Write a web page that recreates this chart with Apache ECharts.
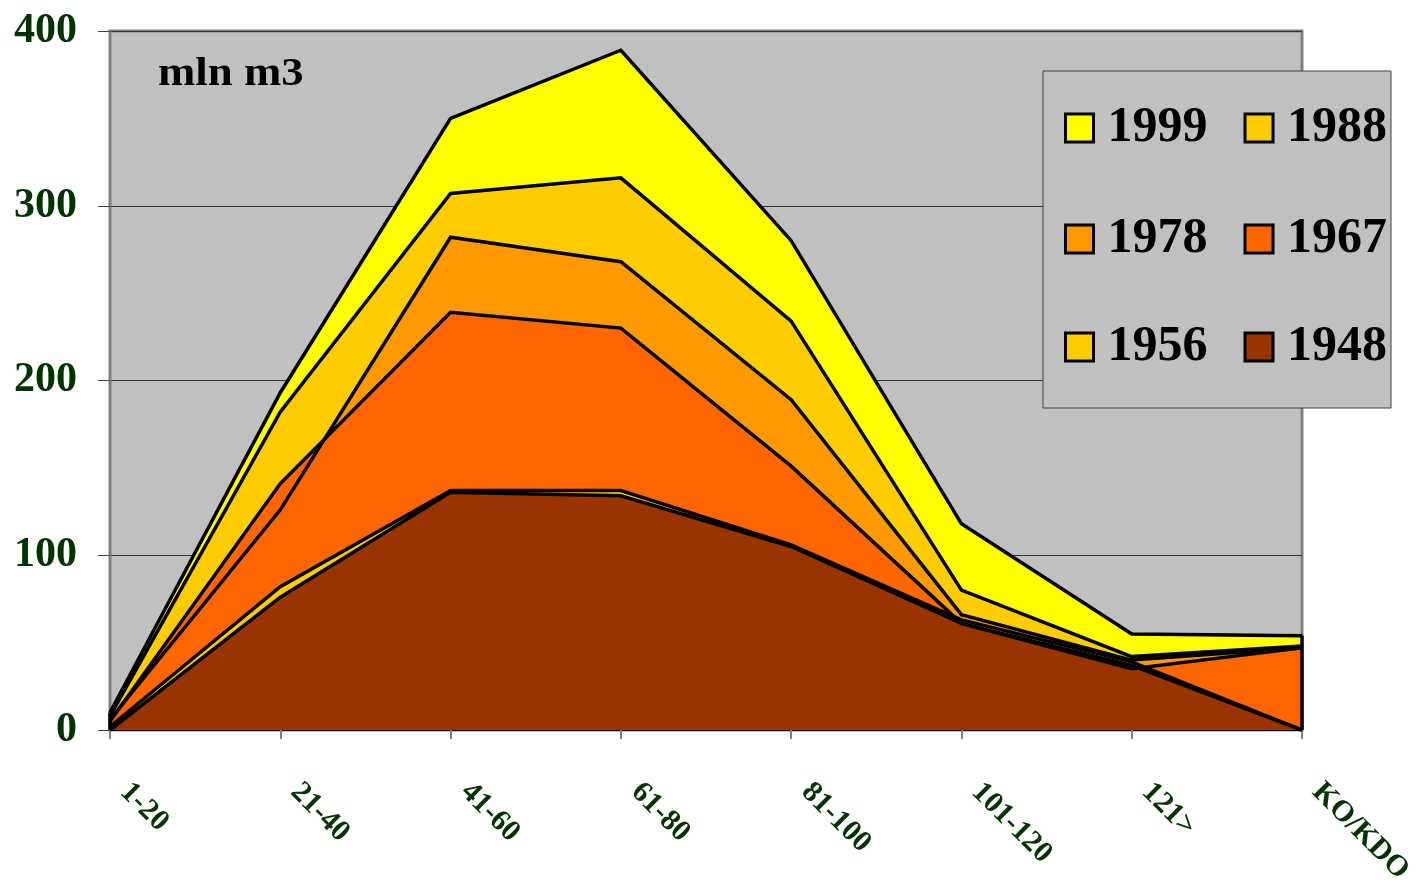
<!DOCTYPE html>
<html>
<head>
<meta charset="utf-8">
<title>mln m3</title>
<script src="https://cdn.jsdelivr.net/npm/echarts@6/dist/echarts.min.js"></script>
<style>
  html, body { margin: 0; padding: 0; background: #ffffff; }
  #chart { width: 1419px; height: 886px; }
</style>
</head>
<body>
<div id="chart"></div>
<script>
// Age classes on the horizontal axis
const categories = ['1-20', '21-40', '41-60', '61-80', '81-100', '101-120', '121>', 'KO/KDO'];

// Volume per age class, mln m3, one array per survey year
const s1999 = [10, 193, 350, 389, 280, 118, 55, 54];
const s1988 = [8, 182, 307, 316, 234, 80, 42, 48];
const s1978 = [6, 126, 282, 268, 189, 66, 40, 47];
const s1967 = [5, 141, 239, 230, 151, 61, 35, 47];
const s1956 = [2, 82, 137, 137, 106, 63, 39, 0];
const s1948 = [0, 76, 136, 134, 105, 61, 37, 0];

const yTicks = [0, 100, 200, 300, 400];

// Largest years are drawn first so the smaller ones sit in front
const years = [
  { name: '1999', data: s1999, color: '#FFFF00' },
  { name: '1988', data: s1988, color: '#FFCC00' },
  { name: '1978', data: s1978, color: '#FF9900' },
  { name: '1967', data: s1967, color: '#FF6600' },
  { name: '1956', data: s1956, color: '#FFCC00' },
  { name: '1948', data: s1948, color: '#993300' }
];

const SERIF = 'Liberation Serif';
const GREEN = '#003300';

const last = categories.length - 1;

const series = years.map((y, i) => {
  const s = {
    name: y.name,
    type: 'line',
    data: y.data,
    symbol: 'none',
    silent: true,
    z: 2,
    lineStyle: { color: '#000000', width: 3.5, join: 'miter' },
    itemStyle: { color: y.color },
    areaStyle: { color: y.color, opacity: 1 },
    emphasis: { disabled: true }
  };
  if (i === years.length - 1) {
    // outline of the areas at both ends of the category axis
    s.markLine = {
      silent: true,
      symbol: ['none', 'none'],
      label: { show: false },
      lineStyle: { color: '#000000', width: 3.5, type: 'solid' },
      data: [
        [{ coord: [categories[last], 0] }, { coord: [categories[last], s1999[last]] }],
        [{ coord: [categories[0], 0] }, { coord: [categories[0], s1999[0]] }]
      ]
    };
  }
  return s;
});

function legendRow(names, top) {
  return {
    data: names.map(n => ({ name: n, icon: 'rect' })),
    left: 1064,
    top: top,
    orient: 'horizontal',
    padding: 0,
    itemGap: 36,
    itemWidth: 28,
    itemHeight: 28,
    selectedMode: false,
    z: 10,
    itemStyle: { borderColor: '#000000', borderWidth: 3 },
    textStyle: {
      fontFamily: SERIF,
      fontWeight: 'bold',
      fontSize: 50,
      lineHeight: 52,
      color: '#000000',
      padding: [0, 0, 0, 9]
    }
  };
}

const chart = echarts.init(document.getElementById('chart'), null, { renderer: 'canvas' });

chart.setOption({
  animation: false,
  backgroundColor: '#ffffff',
  grid: {
    left: 110,
    right: 117,
    top: 31,
    bottom: 156,
    outerBoundsMode: 'none',
    containLabel: false,
    show: true,
    backgroundColor: '#C0C0C0',
    borderColor: '#808080',
    borderWidth: 3
  },
  xAxis: {
    type: 'category',
    data: categories,
    boundaryGap: false,
    axisLine: { show: true, lineStyle: { color: '#000000', width: 2 } },
    axisTick: { show: true, length: 9, lineStyle: { color: '#808080', width: 2 } },
    axisLabel: {
      rotate: -45,
      interval: 0,
      margin: 64,
      align: 'left',
      verticalAlign: 'bottom',
      padding: [0, 0, 0, 6],
      color: GREEN,
      fontFamily: SERIF,
      fontWeight: 'bold',
      fontSize: 30
    },
    splitLine: { show: false }
  },
  yAxis: {
    type: 'value',
    min: yTicks[0],
    max: yTicks[yTicks.length - 1],
    interval: yTicks[1] - yTicks[0],
    axisLine: { show: true, lineStyle: { color: '#808080', width: 2 } },
    axisTick: { show: true, length: 12, lineStyle: { color: '#404040', width: 1 } },
    axisLabel: {
      margin: 33,
      color: GREEN,
      fontFamily: SERIF,
      fontWeight: 'bold',
      fontSize: 42
    },
    splitLine: { show: true, lineStyle: { color: '#333333', width: 1 } }
  },
  legend: [
    legendRow(['1999', '1988'], 102),
    legendRow(['1978', '1967'], 213),
    legendRow(['1956', '1948'], 321)
  ],
  graphic: [
    {
      type: 'rect',
      z: 5,
      silent: true,
      shape: { x: 1043, y: 71, width: 348, height: 337 },
      style: { fill: '#C0C0C0', stroke: '#404040', lineWidth: 1 }
    },
    {
      type: 'text',
      z: 6,
      silent: true,
      x: 158,
      y: 55,
      scaleX: 1.12,
      style: {
        text: 'mln m3',
        fontFamily: SERIF,
        fontWeight: 'bold',
        fontSize: 40,
        fill: '#000000'
      }
    }
  ],
  series: series
});
</script>
</body>
</html>
